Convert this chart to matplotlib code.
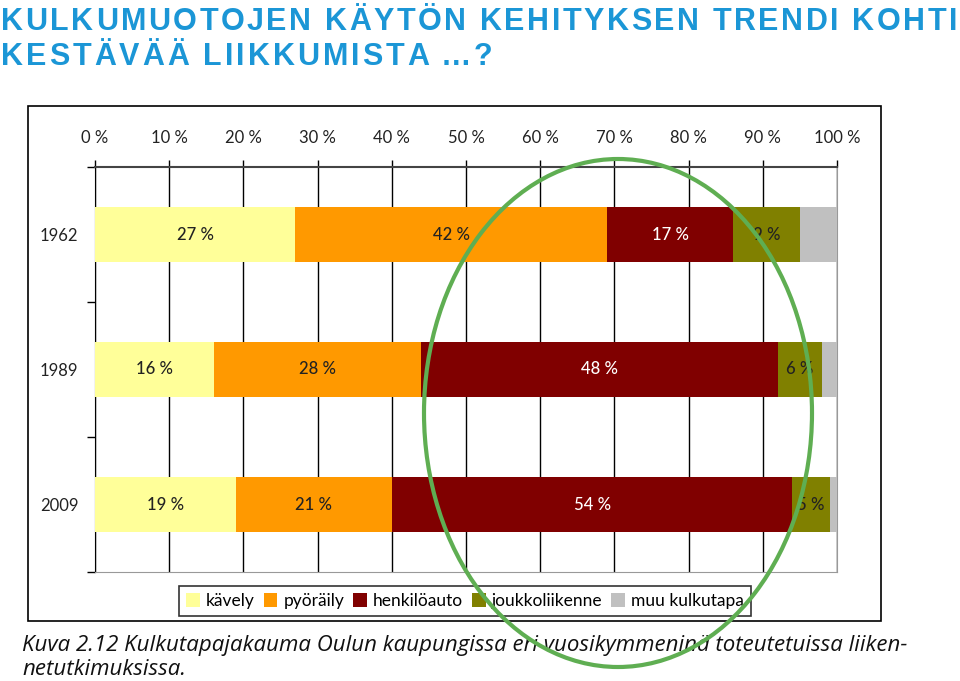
import numpy as np
import matplotlib.pyplot as plt
from matplotlib.patches import Ellipse, Rectangle

# Data
years = ['1962', '1989', '2009']
modes = ['kävely', 'pyöräily', 'henkilöauto', 'joukkoliikenne', 'muu kulkutapa']
kavely = [27, 16, 19]
pyoraily = [42, 28, 21]
auto = [17, 48, 54]
joukko = [9, 6, 5]
muu = [5, 2, 1]
colors = ['#FFFF99', '#FF9900', '#800000', '#808000', '#C0C0C0']
label_colors = ['#222222', '#222222', 'white', '#222222', None]
xticks = np.arange(0, 101, 10)
title1 = 'KULKUMUOTOJEN KÄYTÖN KEHITYKSEN TRENDI KOHTI'
title2 = 'KESTÄVÄÄ LIIKKUMISTA …?'

fig = plt.figure(figsize=(9.6, 6.81), dpi=100)
W, H = 960, 681
renderer = fig.canvas.get_renderer()

# Title, letter-spaced: place each character so line 1 spans the full width
title_kw = dict(color='#1B96D6', fontsize=22, fontweight='bold', family='Liberation Sans', va='baseline', ha='left')


def text_width(s):
    t = fig.text(0, 0, s, **title_kw)
    w = t.get_window_extent(renderer).width
    t.remove()
    return w


def spaced_text(s, x0, y0, extra):
    for i, ch in enumerate(s):
        x = x0 + text_width(s[:i]) + i * extra if i > 0 else x0
        fig.text(x / W, 1 - y0 / H, ch, **title_kw)


extra = (957 - 1 - text_width(title1)) / (len(title1) - 1)
spaced_text(title1, 1, 30, extra)
spaced_text(title2, 1, 65, extra * 1.15)

# chart frame
fig.patches.append(Rectangle((28 / W, 1 - 621 / H), 853 / W, 515 / H, transform=fig.transFigure,
                             fill=False, edgecolor='black', lw=1.2))

ax = fig.add_axes([95 / W, 1 - 572 / H, 742 / W, 405 / H])
series = [kavely, pyoraily, auto, joukko, muu]
ypos = np.arange(len(years)) + 0.5
left = np.zeros(len(years))
for vals, col, lc, name in zip(series, colors, label_colors, modes):
    vals = np.array(vals, dtype=float)
    ax.barh(ypos, vals, left=left, height=0.41, color=col, label=name, zorder=3)
    if lc is not None:
        for y, l, v in zip(ypos, left, vals):
            ax.text(l + v / 2, y, f'{int(v)} %', ha='center', va='center', color=lc,
                    fontsize=12, family='Lato', fontweight='medium', zorder=4)
    left += vals

ax.set_xlim(0, 100)
ax.set_ylim(3, 0)
ax.set_xticks(xticks)
ax.set_xticklabels([f'{t} %' for t in xticks], fontsize=12, family='Lato', color='#222222')
ax.xaxis.tick_top()
ax.tick_params(axis='x', direction='out', length=5, width=1, color='black', pad=10)
ax.grid(axis='x', color='black', lw=1, zorder=1)
ax.set_yticks([0, 1, 2, 3])
ax.set_yticklabels([])
ax.set_yticks(ypos, minor=True)
ax.set_yticklabels(years, minor=True, fontsize=12, family='Lato', color='#222222')
ax.tick_params(axis='y', which='major', direction='out', length=6, width=1, color='black')
ax.tick_params(axis='y', which='minor', length=0, pad=12)
ax.spines['top'].set_color('#444444')
ax.spines['top'].set_linewidth(1.5)
ax.spines['left'].set_color('black')
ax.spines['right'].set_color('#999999')
ax.spines['bottom'].set_color('#999999')

leg = fig.legend(loc='center', bbox_to_anchor=(465 / W, 1 - 601 / H), ncol=5, frameon=True,
                 fancybox=False, edgecolor='black', handlelength=0.8, handleheight=0.8,
                 handletextpad=0.35, columnspacing=0.5, borderpad=0.4,
                 prop={'family': 'Lato', 'size': 12.5})
leg.get_frame().set_linewidth(1.2)

# caption
cap_kw = dict(fontsize=16, style='italic', family='Open Sans', color='#111111', ha='left', va='baseline')
fig.text(22 / W, 1 - 651 / H, 'Kuva 2.12 Kulkutapajakauma Oulun kaupungissa eri vuosikymmeninä toteutetuissa liiken-', **cap_kw)
fig.text(22 / W, 1 - 675 / H, 'netutkimuksissa.', **cap_kw)

# green ellipse
fig.patches.append(Ellipse((618 / W, 1 - 413 / H), 388 / W, 508 / H, transform=fig.transFigure,
                           fill=False, edgecolor='#5FAE52', lw=3, zorder=10))

fig.savefig('out.png', dpi=100)
